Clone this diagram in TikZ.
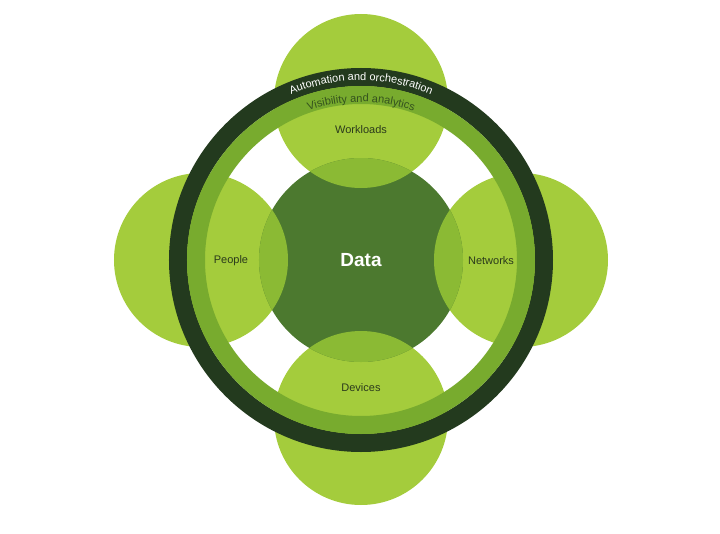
\documentclass[tikz,border=0pt]{standalone}
\usepackage{fontspec}
\setmainfont{Liberation Sans}
\usetikzlibrary{decorations.text}

\definecolor{satgreen}{HTML}{A4CC3C}
\definecolor{overlapgreen}{HTML}{8BBA34}
\definecolor{datagreen}{HTML}{4C792F}
\definecolor{ringlight}{HTML}{78AB2E}
\definecolor{ringdark}{HTML}{233A1E}
\definecolor{labeldark}{HTML}{2B3A1C}
\definecolor{ringtext}{HTML}{34521E}

\newcommand{\ringfont}{\fontsize{11}{12}\selectfont}

\begin{document}
\begin{tikzpicture}[
x=1pt, y=1pt,
ring/.style={draw=#1, line width=18pt},
label text/.style={text=labeldark, font=\fontsize{11}{13}\selectfont},
ring text/.style={decorate, decoration={text along path, text align=center, text={#1}}}
]
\useasboundingbox (-361,-273) rectangle (359,260);

% --- Tâm và bốn vòng tròn vệ tinh ---
\coordinate (centre) at (0,0);
\coordinate (work) at (0,159);
\coordinate (devi) at (0,-158);
\coordinate (peop) at (-160,0);
\coordinate (netw) at (160,0);

\foreach \c in {work,devi,peop,netw}
  \fill[satgreen] (\c) circle[radius=87];

% Vòng tròn Data ở giữa
\fill[datagreen] (centre) circle[radius=102];

% Phần giao nhau giữa Data và các vệ tinh
\begin{scope}
  \clip (centre) circle[radius=102];
  \foreach \c in {work,devi,peop,netw}
    \fill[overlapgreen] (\c) circle[radius=87];
\end{scope}

% --- Hai vành bao quanh ---
\draw[ring=ringdark] (centre) circle[radius=183];
\draw[ring=ringlight] (centre) circle[radius=165];

\path[ring text={|\ringfont\color{white}|Automation and orchestration}]
  (150:179.5) arc[start angle=150, end angle=30, radius=179.5];
\path[ring text={|\ringfont\color{ringtext}|Visibility and analytics}]
  (150:158) arc[start angle=150, end angle=30, radius=158];

% --- Nhãn ---
\node[text=white, font=\fontsize{19}{22}\selectfont\bfseries] (data) at (centre) {Data};
\node[label text] (workloads) at (0,130) {Workloads};
\node[label text] (devices) at (0,-128) {Devices};
\node[label text] (people) at (-130,-1) {People};
\node[label text] (networks) at (130,-1) {Networks};

\end{tikzpicture}
\end{document}
